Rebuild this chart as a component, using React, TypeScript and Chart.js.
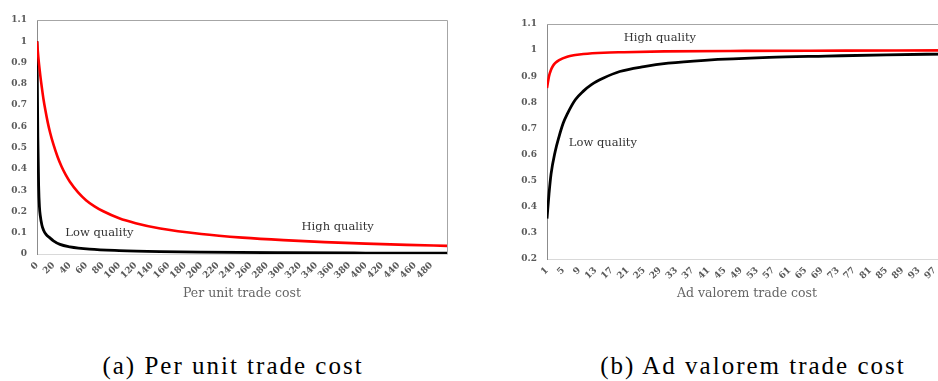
import React, { useEffect, useRef } from 'react';
import { Chart, registerables } from 'chart.js';
Chart.register(...registerables);

// ---------- Data: (a) Per unit trade cost ----------
const perUnitLowX = [0, 1, 2, 3, 4, 6, 8, 11, 15, 20, 28, 40, 64, 100, 150, 200, 300, 400, 499];
const perUnitLow = [1, 0.55, 0.32, 0.22, 0.18, 0.135, 0.112, 0.092, 0.078, 0.062, 0.045, 0.034, 0.023, 0.016, 0.011, 0.0085, 0.006, 0.0045, 0.0035];
const perUnitHighX = [0, 2, 4, 6, 8, 10, 13, 16, 20, 25, 30, 35, 40, 50, 60, 70, 80, 100, 120, 150, 200, 250, 300, 350, 400, 450, 499];
const perUnitHigh = [1, 0.91, 0.84, 0.78, 0.725, 0.68, 0.62, 0.57, 0.515, 0.457, 0.41, 0.372, 0.34, 0.29, 0.252, 0.224, 0.202, 0.168, 0.145, 0.12, 0.094, 0.077, 0.065, 0.056, 0.049, 0.043, 0.038];
const perUnitXTicks = [0, 20, 40, 60, 80, 100, 120, 140, 160, 180, 200, 220, 240, 260, 280, 300, 320, 340, 360, 380, 400, 420, 440, 460, 480];
const perUnitYTicks = [0, 0.1, 0.2, 0.3, 0.4, 0.5, 0.6, 0.7, 0.8, 0.9, 1, 1.1];

// ---------- Data: (b) Ad valorem trade cost ----------
const adValLowX = [1, 1.5, 2, 3, 4, 5, 6, 8, 10, 12, 15, 19, 25, 31, 40, 56, 70, 85, 100];
const adValLow = [0.355, 0.45, 0.525, 0.61, 0.67, 0.72, 0.755, 0.81, 0.843, 0.868, 0.893, 0.918, 0.937, 0.95, 0.961, 0.972, 0.977, 0.982, 0.985];
const adValHighX = [1, 1.5, 2, 2.5, 3, 4, 6, 8, 10, 15, 20, 30, 50, 75, 100];
const adValHigh = [0.855, 0.9, 0.925, 0.94, 0.95, 0.962, 0.975, 0.981, 0.985, 0.99, 0.992, 0.995, 0.997, 0.998, 0.999];
const adValXTicks = [1, 5, 9, 13, 17, 21, 25, 29, 33, 37, 41, 45, 49, 53, 57, 61, 65, 69, 73, 77, 81, 85, 89, 93, 97];
const adValYTicks = [0.2, 0.3, 0.4, 0.5, 0.6, 0.7, 0.8, 0.9, 1, 1.1];

const seriesNames = ['Low quality', 'High quality'];

const TICK_FONT = { family: "'DejaVu Serif', serif", size: 9, weight: 'bold' as const };
const TICK_COLOR = '#595959';

const framePlugin = {
  id: 'frame',
  beforeDatasetsDraw(chart: any) {
    const { ctx, chartArea } = chart;
    ctx.save();
    ctx.strokeStyle = '#a6a6a6';
    ctx.lineWidth = 1;
    ctx.beginPath();
    ctx.moveTo(chartArea.left, chartArea.top + 0.5);
    ctx.lineTo(chartArea.right + 0.5, chartArea.top + 0.5);
    ctx.lineTo(chartArea.right + 0.5, chartArea.bottom);
    ctx.stroke();
    ctx.restore();
  },
};

const labelPlugin = {
  id: 'curveLabels',
  afterDatasetsDraw(chart: any, _args: any, opts: any) {
    const { ctx, scales } = chart;
    ctx.save();
    ctx.font = "11.5px 'DejaVu Serif', serif";
    ctx.fillStyle = '#333333';
    ctx.textAlign = 'left';
    ctx.textBaseline = 'middle';
    (opts.items || []).forEach((it: any) => {
      ctx.fillText(it.text, scales.x.getPixelForValue(it.x), scales.y.getPixelForValue(it.y));
    });
    ctx.restore();
  },
};

function fmt(v: number) {
  return String(Number(v.toFixed(1)));
}

function makeConfig(p: any) {
  return {
    type: 'line',
    data: {
      datasets: [
        {
          label: seriesNames[1],
          data: p.highX.map((x: number, i: number) => ({ x, y: p.high[i] })),
          borderColor: '#ff0000',
          borderWidth: 2.6,
          pointRadius: 0,
          cubicInterpolationMode: 'monotone',
          fill: false,
        },
        {
          label: seriesNames[0],
          data: p.lowX.map((x: number, i: number) => ({ x, y: p.low[i] })),
          borderColor: '#000000',
          borderWidth: 2.8,
          pointRadius: 0,
          cubicInterpolationMode: 'monotone',
          fill: false,
        },
      ],
    },
    options: {
      animation: false,
      responsive: false,
      maintainAspectRatio: false,
      layout: { padding: p.padding },
      plugins: {
        legend: { display: false },
        tooltip: { enabled: false },
        curveLabels: { items: p.labels },
      },
      scales: {
        x: {
          type: 'linear',
          min: p.xMin,
          max: p.xMax,
          afterBuildTicks: (s: any) => { s.ticks = p.xTicks.map((v: number) => ({ value: v })); },
          afterFit: (s: any) => { s.height = p.xHeight; },
          grid: { display: false, drawTicks: false },
          border: { display: true, color: '#d9d9d9', width: 1 },
          ticks: {
            autoSkip: false,
            minRotation: 45,
            maxRotation: 45,
            padding: 6,
            font: TICK_FONT,
            color: TICK_COLOR,
            callback: (v: number) => String(v),
          },
          title: {
            display: true,
            text: p.xTitle,
            color: '#666666',
            font: { family: "'DejaVu Serif', serif", size: 12.5 },
            padding: { top: 0, bottom: 9 },
          },
        },
        y: {
          type: 'linear',
          min: p.yMin,
          max: p.yMax,
          afterBuildTicks: (s: any) => { s.ticks = p.yTicks.map((v: number) => ({ value: v })); },
          afterFit: (s: any) => { s.width = p.yWidth; },
          grid: { display: false, drawTicks: false },
          border: { display: true, color: '#8c8c8c', width: 1 },
          ticks: {
            padding: 10,
            font: TICK_FONT,
            color: TICK_COLOR,
            callback: (v: number) => fmt(v),
          },
        },
      },
    },
    plugins: [framePlugin, labelPlugin],
  };
}

function ChartCanvas({ params, width, height, style }: any) {
  const ref = useRef<HTMLCanvasElement>(null);
  useEffect(() => {
    const chart = new Chart(ref.current as HTMLCanvasElement, makeConfig(params) as any);
    return () => chart.destroy();
  }, []);
  return <canvas ref={ref} width={width} height={height} style={{ position: 'absolute', display: 'block', width, height, ...style }} />;
}

const leftParams = {
  lowX: perUnitLowX, low: perUnitLow, highX: perUnitHighX, high: perUnitHigh,
  xTicks: perUnitXTicks, yTicks: perUnitYTicks,
  xMin: 0, xMax: 499, yMin: 0, yMax: 1.1,
  xTitle: 'Per unit trade cost',
  padding: { left: 0, top: 20, right: 13, bottom: 0 },
  yWidth: 37, xHeight: 56,
  labels: [
    { text: 'Low quality', x: 34.5, y: 0.098 },
    { text: 'High quality', x: 322, y: 0.127 },
  ],
};

const rightParams = {
  lowX: adValLowX, low: adValLow, highX: adValHighX, high: adValHigh,
  xTicks: adValXTicks, yTicks: adValYTicks,
  xMin: 1, xMax: 100, yMin: 0.2, yMax: 1.1,
  xTitle: 'Ad valorem trade cost',
  padding: { left: 0, top: 24, right: 13, bottom: 0 },
  yWidth: 47, xHeight: 51,
  labels: [
    { text: 'High quality', x: 20, y: 1.048 },
    { text: 'Low quality', x: 6.4, y: 0.646 },
  ],
};

export default function App() {
  const cap: React.CSSProperties = {
    position: 'absolute',
    top: 352,
    fontFamily: "'Liberation Serif', serif",
    fontSize: 25,
    letterSpacing: 2,
    lineHeight: 1.107,
    color: '#000',
    whiteSpace: 'nowrap',
    transform: 'translateX(-50%)',
  };
  return (
    <div style={{ position: 'absolute', left: 0, top: 0, width: 938, height: 381, overflow: 'hidden', background: '#fff' }}>
      <ChartCanvas params={leftParams} width={460} height={310} style={{ left: 0, top: 0 }} />
      <ChartCanvas params={rightParams} width={460} height={310} style={{ left: 500, top: 0 }} />
      <div style={{ ...cap, left: 233 }}>(a) Per unit trade cost</div>
      <div style={{ ...cap, left: 753 }}>(b) Ad valorem trade cost</div>
    </div>
  );
}
